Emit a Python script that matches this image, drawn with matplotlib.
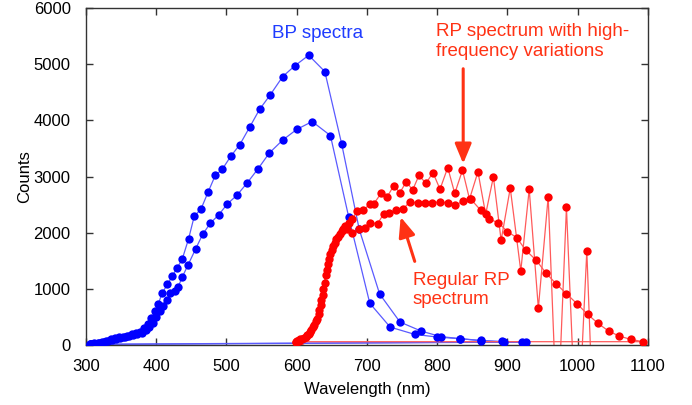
import numpy as np
import matplotlib
matplotlib.use("Agg")
import matplotlib.pyplot as plt

plt.rcParams['font.family'] = ['Liberation Sans', 'DejaVu Sans']

# BP spectra (two sources)
bp1_wl = [305, 311, 317, 323, 329, 335, 341, 347, 353, 359, 365, 371, 377, 383, 388, 393,
          398, 403, 408, 416, 423, 430, 437, 446, 454, 464, 474, 484, 494, 506, 519, 533,
          547, 562, 580, 597, 617, 640, 664, 689, 718, 747, 777, 805, 833, 862, 892, 921]
bp1 = [15, 30, 45, 60, 80, 100, 120, 140, 150, 170, 190, 210, 230, 300, 380, 480,
       600, 730, 920, 1080, 1235, 1380, 1530, 1890, 2290, 2430, 2730, 3020, 3130, 3360, 3570, 3880,
       4195, 4450, 4780, 4970, 5160, 4870, 3580, 2060, 910, 410, 250, 150, 115, 75, 65, 55]

bp2_wl = [307, 313, 319, 325, 331, 337, 343, 349, 355, 361, 367, 373, 379, 385, 390, 395,
          400, 405, 410, 415, 420, 426, 431, 437, 445, 456, 466, 477, 489, 501, 515, 529,
          545, 561, 580, 600, 622, 648, 674, 704, 733, 768, 800, 833, 862, 895, 926]
bp2 = [10, 25, 40, 55, 75, 95, 110, 130, 145, 160, 180, 200, 220, 260, 320, 400,
       500, 600, 700, 800, 920, 970, 1030, 1210, 1420, 1710, 1970, 2170, 2320, 2510, 2670, 2880,
       3140, 3420, 3650, 3840, 3980, 3730, 2280, 745, 320, 190, 143, 112, 84, 53, 53]

# regular RP spectrum
rp_wl = [599, 603, 608, 613, 617, 621, 625, 629, 632, 635, 638, 641, 644, 648, 652, 656,
         661, 666, 672, 679, 688, 697, 705, 715, 724, 732, 742, 752, 761, 772, 782, 793,
         804, 815, 826, 837, 848, 862, 874, 887, 900, 913, 926, 941, 955, 969, 984, 999,
         1014, 1029, 1044, 1059, 1076, 1093]
rp = [60, 80, 100, 140, 200, 270, 350, 460, 620, 800, 1000, 1250, 1450, 1620, 1760, 1880,
      1980, 2060, 2060, 2000, 2060, 2090, 2180, 2160, 2340, 2360, 2400, 2430, 2550, 2530, 2525, 2525,
      2555, 2525, 2490, 2565, 2595, 2400, 2240, 2180, 2020, 1915, 1690, 1510, 1280, 1095, 915, 735,
      550, 385, 250, 160, 100, 60]

# RP spectrum with high-frequency variations
hf_wl = [600, 605, 610, 615, 619, 623, 627, 631, 634, 637, 640, 643, 646, 650, 654, 659,
         664, 669, 675, 679, 686, 695, 704, 710, 720, 729, 738, 747, 756, 765, 774, 784,
         794, 804, 815, 825, 836, 846, 858, 869, 880, 891, 904, 919, 931, 944, 958, 971,
         984, 999, 1013, 1027]
hf = [70, 100, 130, 180, 240, 320, 420, 560, 720, 900, 1100, 1330, 1530, 1690, 1810, 1930,
      2030, 2120, 2180, 2240, 2390, 2400, 2510, 2520, 2700, 2645, 2835, 2715, 2910, 2760, 3020, 2880,
      3070, 2775, 3160, 2700, 3115, 2600, 3085, 2330, 2995, 1865, 2795, 1320, 2775, 655, 2640, -1500,
      2450, -2000, 1675, -3000]

BLUE = '#0000ff'
RED = '#ff0000'
TXT_BLUE = '#1f3cff'
TXT_RED = '#ff3214'

fig = plt.figure(figsize=(6.92, 4.05), dpi=100)
ax = fig.add_axes([0.1243, 0.148, 0.812, 0.832])


def spectrum(wl, counts, col, line_col):
    # the line wraps back from the last sample to the first one
    wl = np.append(wl, wl[0])
    counts = np.append(counts, counts[0])
    ax.plot(wl, counts, '-', color=line_col, lw=0.9, zorder=2)
    ax.plot(wl, counts, 'o', color=col, ms=6, mec='none', zorder=3)


spectrum(bp1_wl, bp1, BLUE, '#5a5aff')
spectrum(bp2_wl, bp2, BLUE, '#5a5aff')
spectrum(hf_wl, hf, RED, '#ff5a5a')
spectrum(rp_wl, rp, RED, '#ff5a5a')

ax.set_xlim(300, 1100)
ax.set_ylim(0, 6000)
ax.set_xticks(range(300, 1101, 100))
ax.set_yticks(range(0, 6001, 1000))
ax.tick_params(direction='in', top=True, right=True, length=5, width=1,
               color='#333333', labelsize=12)
ax.tick_params(axis='x', pad=10)
ax.tick_params(axis='y', pad=11)
for s in ax.spines.values():
    s.set_color('#333333')
    s.set_linewidth(1)
ax.set_xlabel('Wavelength (nm)', fontsize=12, labelpad=6)
ax.set_ylabel('Counts', fontsize=12, labelpad=1)

ax.text(629, 5540, 'BP spectra', color=TXT_BLUE, fontsize=13.5, ha='center', va='center')
ax.text(798, 5400, 'RP spectrum with high-\nfrequency variations', color=TXT_RED,
        fontsize=13.5, ha='left', va='center', linespacing=1.2)
ax.text(765, 980, 'Regular RP\nspectrum', color=TXT_RED,
        fontsize=13.5, ha='left', va='center', linespacing=1.2)

ax.annotate('', xy=(837, 3230), xytext=(837, 4920),
            arrowprops=dict(arrowstyle='-|>,head_width=0.5,head_length=1.2',
                            color=TXT_RED, lw=2.2, shrinkA=0, shrinkB=0))
ax.annotate('', xy=(748, 2280), xytext=(768, 1490),
            arrowprops=dict(arrowstyle='-|>,head_width=0.5,head_length=1.2',
                            color=TXT_RED, lw=2.2, shrinkA=0, shrinkB=0))

fig.savefig('out.png', dpi=100)
